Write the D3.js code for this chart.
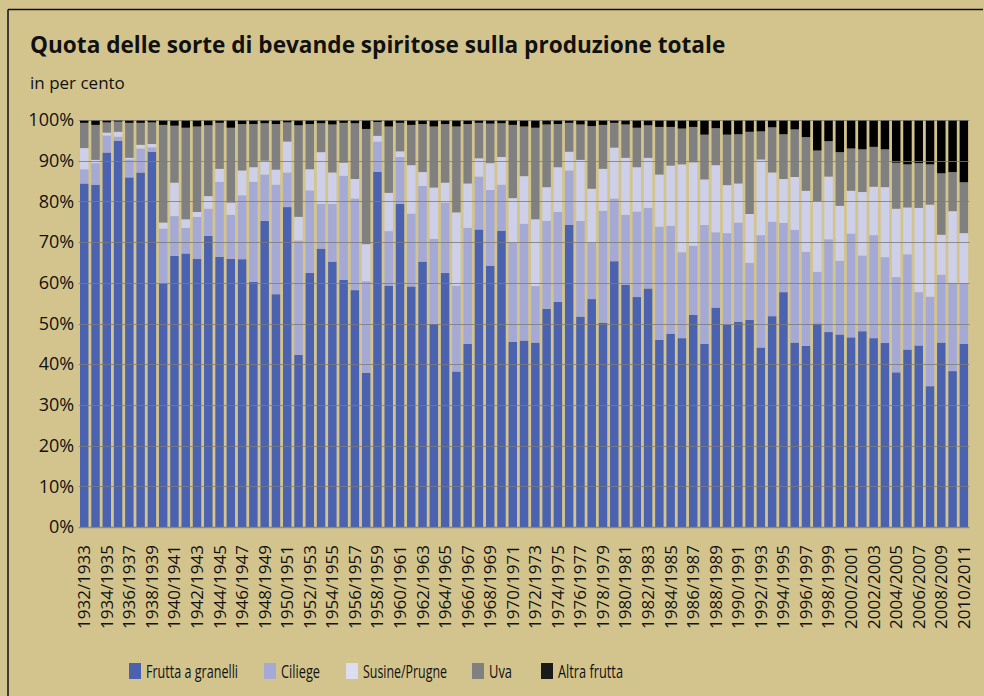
<!DOCTYPE html>
<html lang="it">
  <head>
    <meta charset="UTF-8" />
    <title>Quota delle sorte di bevande spiritose</title>
    <style>
      html, body {
        margin: 0;
        overflow: hidden;
        background: #d3c48e;
      }

      svg {
        display: block;
      }

      text {
        font-family: "Open Sans", sans-serif;
        fill: #111;
      }

      .title {
        font-size: 22.6px;
        font-weight: bold;
      }

      .grid-line {
        stroke: #7a7a7a;
        stroke-opacity: 0.8;
        stroke-width: 1px;
      }

      .frame {
        stroke: #111;
        stroke-width: 1.5px;
      }
    </style>
  </head>

  <body>
    <script src="https://cdn.jsdelivr.net/npm/d3@7"></script>
    <script>

      // Data...

      var years = [
        "1932/1933","1933/1934","1934/1935","1935/1936","1936/1937","1937/1938","1938/1939","1939/1940",
        "1940/1941","1941/1942","1942/1943","1943/1944","1944/1945","1945/1946","1946/1947","1947/1948",
        "1948/1949","1949/1950","1950/1951","1951/1952","1952/1953","1953/1954","1954/1955","1955/1956",
        "1956/1957","1957/1958","1958/1959","1959/1960","1960/1961","1961/1962","1962/1963","1963/1964",
        "1964/1965","1965/1966","1966/1967","1967/1968","1968/1969","1969/1970","1970/1971","1971/1972",
        "1972/1973","1973/1974","1974/1975","1975/1976","1976/1977","1977/1978","1978/1979","1979/1980",
        "1980/1981","1981/1982","1982/1983","1983/1984","1984/1985","1985/1986","1986/1987","1987/1988",
        "1988/1989","1989/1990","1990/1991","1991/1992","1992/1993","1993/1994","1994/1995","1995/1996",
        "1996/1997","1997/1998","1998/1999","1999/2000","2000/2001","2001/2002","2002/2003","2003/2004",
        "2004/2005","2005/2006","2006/2007","2007/2008","2008/2009","2009/2010","2010/2011"
      ];

      var fruttaGranelli = [
        84.4,84.1,92.0,94.9,85.9,87.1,92.2,59.8,66.6,67.2,65.9,71.5,66.4,65.9,65.8,60.2,
        75.2,57.2,78.6,42.3,62.4,68.4,65.2,60.7,58.2,37.9,87.3,59.3,79.4,59.1,65.2,49.9,
        62.4,38.2,45.0,73.1,64.2,72.8,45.5,45.8,45.3,53.6,55.3,74.2,51.7,56.0,50.2,65.3,
        59.5,56.5,58.6,46.0,47.5,46.4,52.1,45.0,53.9,49.7,50.4,50.9,44.1,51.8,57.7,45.3,
        44.5,50.0,47.9,47.3,46.6,48.1,46.4,45.2,38.0,43.6,44.6,34.6,45.3,38.3,45.0
      ];

      var ciliege = [
        3.5,5.3,4.2,1.0,4.4,5.9,1.1,13.5,9.8,6.3,10.3,6.7,18.4,10.8,15.7,24.6,
        11.4,26.9,8.5,28.1,20.3,11.0,14.2,25.6,22.5,22.5,7.4,13.4,11.5,17.9,18.6,20.9,
        17.3,21.1,28.5,13.0,18.6,11.3,24.3,28.7,13.9,21.6,22.1,13.4,23.5,13.9,27.5,15.4,
        17.2,21.0,19.8,27.8,26.5,21.1,17.0,29.2,18.5,22.5,24.4,14.0,27.6,23.2,17.0,27.7,
        23.1,12.7,22.8,18.1,25.5,18.6,25.3,21.1,23.4,23.4,13.1,22.0,16.7,21.7,14.9
      ];

      var susinePrugne = [
        5.2,0.8,0.7,1.2,0.4,0.9,0.8,1.5,8.2,2.1,1.2,3.1,3.2,3.0,6.1,3.6,
        3.4,3.7,7.6,5.8,5.2,12.7,7.7,3.2,4.8,9.1,1.4,9.4,1.4,11.9,3.4,12.6,
        4.9,18.0,10.9,4.5,6.6,6.8,11.0,11.7,16.4,8.3,11.0,4.6,15.0,13.2,10.3,12.5,
        14.0,10.9,12.3,12.8,14.8,21.6,20.5,11.2,16.5,11.8,9.6,12.0,18.6,12.1,10.8,13.0,
        15.0,17.3,15.4,13.5,10.5,15.6,11.9,17.2,16.8,11.5,20.7,22.6,9.8,17.6,12.3
      ];

      var uva = [
        6.2,8.6,2.5,2.5,8.6,5.4,5.3,24.0,14.0,22.5,21.0,17.4,11.3,18.4,11.4,10.6,
        9.2,11.2,4.7,22.5,11.1,7.1,11.8,9.8,13.7,28.3,3.4,16.3,7.0,9.9,11.8,15.0,
        14.4,21.1,14.6,8.7,9.7,8.3,18.0,12.2,22.5,15.4,10.6,7.1,8.7,15.4,10.8,6.1,
        8.2,9.7,8.0,11.7,9.5,8.8,8.7,11.0,9.1,12.4,12.1,20.2,6.9,11.1,11.0,11.7,
        13.2,12.5,8.7,13.2,10.4,10.5,9.8,9.3,11.3,10.6,11.0,9.9,15.1,9.6,12.5
      ];

      var altraFrutta = [
        0.7,1.2,0.6,0.4,0.7,0.7,0.6,1.2,1.4,1.9,1.6,1.3,0.7,1.9,1.0,1.0,
        0.8,1.0,0.6,1.3,1.0,0.8,1.1,0.7,0.8,2.2,0.5,1.6,0.7,1.2,1.0,1.6,
        1.0,1.6,1.0,0.7,0.9,0.8,1.2,1.6,1.9,1.1,1.0,0.7,1.1,1.5,1.2,0.7,
        1.1,1.9,1.3,1.7,1.7,2.1,1.7,3.6,2.0,3.6,3.5,2.9,2.8,1.8,3.5,2.3,
        4.2,7.5,5.2,7.9,7.0,7.2,6.6,7.2,10.5,10.9,10.6,10.9,13.1,12.8,15.3
      ];

      var seriesNames = ["Frutta a granelli", "Ciliege", "Susine/Prugne", "Uva", "Altra frutta"];
      var seriesKeys = ["granelli", "ciliege", "susine", "uva", "altra"];
      var colors = ["#4a62af", "#a5a9d6", "#cdd0e8", "#808080", "#000000"];
      var legendColors = ["#4a62af", "#a5a9d6", "#dcdef0", "#808080", "#1a1a1a"];
      var yTicks = [0, 10, 20, 30, 40, 50, 60, 70, 80, 90, 100];


      // Build rows for the stack
      var table = years.map(function(y, i) {
        return {
          year: y,
          granelli: fruttaGranelli[i],
          ciliege: ciliege[i],
          susine: susinePrugne[i],
          uva: uva[i],
          altra: altraFrutta[i]
        };
      });


      // SVG...

      var w = 984,
          h = 696;

      var plot = { left: 78.6, right: 969.5, top: 120, bottom: 527 };

      var svg = d3.select("body").append("svg")
        .attr("width", w)
        .attr("height", h);

      // Frame: only the top and left edges show
      svg.append("line")
        .attr("class", "frame")
        .attr("x1", 8).attr("x2", w - 1)
        .attr("y1", 9.5).attr("y2", 9.5);

      svg.append("line")
        .attr("class", "frame")
        .attr("x1", 8).attr("x2", 8)
        .attr("y1", 9.5).attr("y2", h);

      // Title and unit
      svg.append("text")
        .attr("class", "title")
        .attr("x", 30)
        .attr("y", 53)
        .text("Quota delle sorte di bevande spiritose sulla produzione totale");

      svg.append("text")
        .attr("x", 30)
        .attr("y", 89)
        .style("font-size", "17px")
        .text("in per cento");


      // Scales...

      var xScale = d3.scaleBand()
        .domain(years)
        .range([plot.left, plot.right])
        .paddingInner(0.25)
        .paddingOuter(0.125);

      var yScale = d3.scaleLinear()
        .domain([0, 100])
        .range([plot.bottom, plot.top]);


      // Bars...

      var layers = d3.stack().keys(seriesKeys)(table);

      svg.append("g")
        .selectAll("g")
        .data(layers)
        .enter()
        .append("g")
        .attr("fill", function(d, i) { return colors[i]; })
        .selectAll("rect")
        .data(function(d) { return d; })
        .enter()
        .append("rect")
        .attr("x", function(d) { return xScale(d.data.year); })
        .attr("width", xScale.bandwidth())
        .attr("y", function(d) { return yScale(Math.min(d[1], 100)); })
        .attr("height", function(d) { return yScale(d[0]) - yScale(Math.min(d[1], 100)); });


      // Grid lines go over the bars, as in the original
      svg.append("g")
        .selectAll("line")
        .data(yTicks)
        .enter()
        .append("line")
        .attr("class", "grid-line")
        .attr("x1", plot.left)
        .attr("x2", plot.right)
        .attr("y1", function(d) { return Math.round(yScale(d)) + 0.5; })
        .attr("y2", function(d) { return Math.round(yScale(d)) + 0.5; })
        .style("stroke-width", function(d) { return d === 0 ? "1.5px" : "1px"; });


      // Axes...

      var yAxis = d3.axisLeft(yScale)
        .tickValues(yTicks)
        .tickSize(0)
        .tickPadding(4.5)
        .tickFormat(function(d) { return d + "%"; });

      svg.append("g")
        .attr("transform", "translate(" + plot.left + ",0)")
        .call(yAxis)
        .call(function(g) { g.select(".domain").remove(); })
        .selectAll("text")
        .style("font-size", "18px")
        .style("font-family", "'Open Sans', sans-serif")
        .attr("fill", "#111");

      var xAxis = d3.axisBottom(xScale)
        .tickValues(years.filter(function(d, i) { return i % 2 === 0; }))
        .tickSize(0);

      svg.append("g")
        .attr("transform", "translate(0," + plot.bottom + ")")
        .call(xAxis)
        .call(function(g) { g.select(".domain").remove(); })
        .selectAll("text")
        .style("font-size", "17px")
        .style("font-family", "'Open Sans', sans-serif")
        .attr("fill", "#111")
        .attr("transform", "rotate(-90)")
        .attr("text-anchor", "end")
        .attr("x", -18)
        .attr("y", 0)
        .attr("dy", "0.35em");


      // Legend...

      var legendX = [129, 264, 346, 472, 541];
      var legendTextW = [92, 39, 84, 23, 65];

      var legend = svg.append("g")
        .selectAll("g")
        .data(seriesNames)
        .enter()
        .append("g")
        .attr("transform", function(d, i) { return "translate(" + legendX[i] + ",663)"; });

      legend.append("rect")
        .attr("width", 12)
        .attr("height", 16)
        .attr("fill", function(d, i) { return legendColors[i]; });

      legend.append("text")
        .attr("x", 17)
        .attr("y", 15)
        .attr("textLength", function(d, i) { return legendTextW[i]; })
        .attr("lengthAdjust", "spacingAndGlyphs")
        .style("font-size", "17.5px")
        .text(function(d) { return d; });

    </script>
  </body>
</html>
